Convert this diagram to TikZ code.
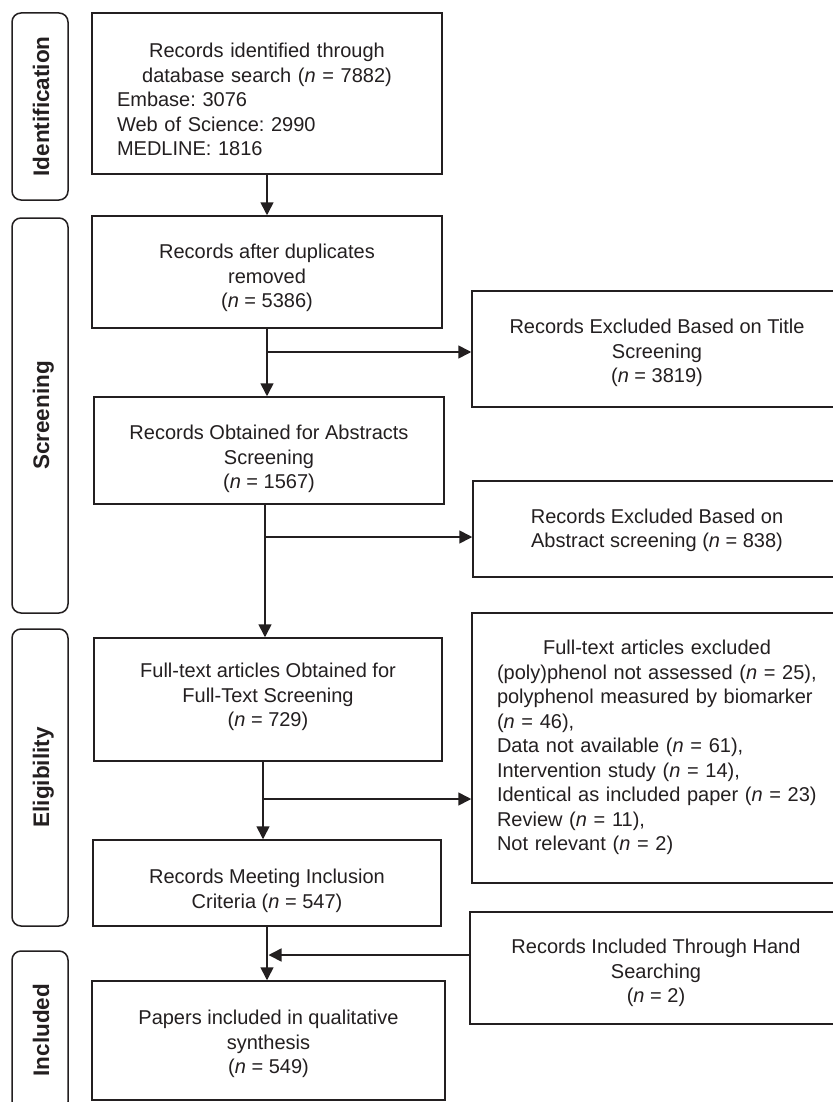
\documentclass[tikz,border=0pt]{standalone}
\usepackage{fontspec}
\setmainfont{Liberation Sans}
\usetikzlibrary{arrows.meta}
\definecolor{lc}{RGB}{35,31,32}
\frenchspacing
\begin{document}
\begin{tikzpicture}[x=1pt,y=-1pt,
  frame/.style={draw=lc, line width=1.5pt, inner sep=0pt},
  lblbox/.style={frame, rounded corners=9pt, minimum width=56pt},
  lbltxt/.style={rotate=90, inner sep=0pt, text=lc, font=\fontsize{22.5}{27}\selectfont\bfseries, text height=16pt, text depth=5pt},
  txt/.style={inner sep=0pt, align=center, text=lc, font=\fontsize{20}{24.5}\selectfont\frenchspacing},
  arr/.style={draw=lc, line width=1.6pt, -{Triangle[length=13pt,width=13pt]}},
]
\fill[white] (0,0) rectangle (832,1102);
\useasboundingbox (0,0) rectangle (832,1102);

% stage labels
\node[lblbox, minimum height=187pt] (Lid) at (40,106.5) {};
\node[lbltxt] (Lidt) at (43.5,106.5) {Identification};
\node[lblbox, minimum height=395pt] (Lsc) at (40,415.5) {};
\node[lbltxt] (Lsct) at (43.5,415.5) {Screening};
\node[lblbox, minimum height=297pt] (Lel) at (40,777.5) {};
\node[lbltxt] (Lelt) at (43.5,777.5) {Eligibility};
\node[lblbox, minimum height=160pt] (Lin) at (40,1031) {};
\node[lbltxt] (Lint) at (43.5,1030) {Included};

% left column boxes
\node[frame, minimum width=350pt, minimum height=161pt] (b1) at (267,93.5) {};
\node[txt, text width=300pt, align=left] (b1t) at (267,99.5) {\makebox[\hsize][c]{Records identified through}\\\makebox[\hsize][c]{database search (\textit{n} = 7882)}\\\mbox{Embase: 3076}\\\mbox{Web of Science: 2990}\\\mbox{MEDLINE: 1816}};

\node[frame, minimum width=350pt, minimum height=112pt] (b2) at (267,272) {};
\node[txt] (b2t) at (267,278) {Records after duplicates\\removed\\(\textit{n} = 5386)};

\node[frame, minimum width=350pt, minimum height=107pt] (b3) at (269,450.5) {};
\node[txt] (b3t) at (269,459) {Records Obtained for Abstracts\\Screening\\(\textit{n} = 1567)};

\node[frame, minimum width=348pt, minimum height=123pt] (b4) at (268,699.5) {};
\node[txt] (b4t) at (268,697) {Full-text articles Obtained for\\Full-Text Screening\\(\textit{n} = 729)};

\node[frame, minimum width=348pt, minimum height=86pt] (b5) at (267,883) {};
\node[txt] (b5t) at (267,891) {Records Meeting Inclusion\\Criteria (\textit{n} = 547)};

\node[frame, minimum width=353pt, minimum height=119pt] (b6) at (268.5,1040.5) {};
\node[txt] (b6t) at (268.5,1044) {Papers included in qualitative\\synthesis\\(\textit{n} = 549)};

% right column boxes
\node[frame, minimum width=370pt, minimum height=116pt] (tx) at (657,349) {};
\node[txt] (txt1) at (657,353) {Records Excluded Based on Title\\Screening\\(\textit{n} = 3819)};

\node[frame, minimum width=369pt, minimum height=96pt] (ax) at (657.5,529) {};
\node[txt] (axt) at (657,530.5) {Records Excluded Based on\\Abstract screening (\textit{n} = 838)};

\node[frame, minimum width=370pt, minimum height=270pt] (fx) at (657,748) {};
\node[txt, text width=320pt, align=left] (fxt) at (657,747.5) {\makebox[\hsize][c]{Full-text articles excluded}\\\mbox{(poly)phenol not assessed (\textit{n} = 25),}\\\mbox{polyphenol measured by biomarker}\\\mbox{(\textit{n} = 46),}\\\mbox{Data not available (\textit{n} = 61),}\\\mbox{Intervention study (\textit{n} = 14),}\\\mbox{Identical as included paper (\textit{n} = 23)}\\\mbox{Review (\textit{n} = 11),}\\\mbox{Not relevant (\textit{n} = 2)}};

\node[frame, minimum width=372pt, minimum height=112pt] (hs) at (656,968) {};
\node[txt] (hst) at (656,973) {Records Included Through Hand\\Searching\\(\textit{n} = 2)};

% junction points
\coordinate (j1) at (267,352);
\coordinate (j2) at (265,537);
\coordinate (j3) at (263,799);
\coordinate (j4) at (268.5,955);

% connectors
\draw[arr] (b1.south) -- (b2.north);
\draw[arr] (b2.south) -- (b2.south |- b3.north);
\draw[arr] (j1) -- (j1 -| tx.west);
\draw[arr] ([xshift=-4pt]b3.south) -- ([xshift=-4pt]b3.south |- b4.north);
\draw[arr] (j2) -- (j2 -| ax.west);
\draw[arr] ([xshift=-5pt]b4.south) -- ([xshift=-5pt]b4.south |- b5.north);
\draw[arr] (j3) -- (j3 -| fx.west);
\draw[arr] (b5.south) -- (b5.south |- b6.north);
\draw[arr] (j4 -| hs.west) -- (j4);
\end{tikzpicture}
\end{document}
